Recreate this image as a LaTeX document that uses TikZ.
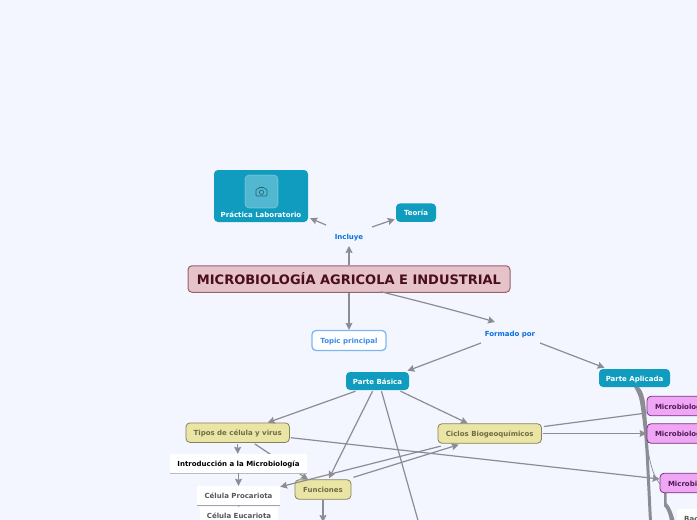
\documentclass[tikz,border=0pt]{standalone}
\usepackage{fontspec}
\setmainfont{DejaVu Sans}
\usetikzlibrary{arrows.meta,calc}
\definecolor{bgc}{HTML}{F4F6FF}
\definecolor{teal}{HTML}{109CBF}
\definecolor{linkc}{HTML}{8C8C94}
\definecolor{bluet}{HTML}{0A6FE0}
\definecolor{mainf}{HTML}{E5C3C9}
\definecolor{maind}{HTML}{96626C}
\definecolor{maint}{HTML}{4A0D1E}
\definecolor{yelf}{HTML}{EAE5A5}
\definecolor{yeld}{HTML}{85825A}
\definecolor{yelt}{HTML}{6E6B45}
\definecolor{pinf}{HTML}{EFA6F5}
\definecolor{pind}{HTML}{7A2F80}
\definecolor{pint}{HTML}{4F1A56}
\definecolor{topd}{HTML}{7DB6F5}
\definecolor{topt}{HTML}{3D8BEA}
\definecolor{grayt}{HTML}{55555F}
\tikzset{
 base/.style={font=\fontsize{7}{8}\selectfont\bfseries,inner sep=0pt,align=center,anchor=center,rounded corners=4pt,text height=6.4pt,text depth=0pt},
 tealbox/.style={base,fill=teal,text=white},
 yelbox/.style={base,fill=yelf,draw=yeld,line width=.8pt,text=yelt},
 pinkbox/.style={base,fill=pinf,draw=pind,line width=.8pt,text=pint},
 bluelab/.style={base,text=bluet},
 whitebox/.style={base,fill=white,rounded corners=0pt},
 conn/.style={draw=linkc,line width=1.2pt,-{Stealth[length=7pt,width=7pt,inset=1pt]}},
 plain/.style={draw=linkc,line width=1.2pt},
}
\begin{document}
\begin{tikzpicture}[x=1pt,y=-1pt]
\useasboundingbox (0,0) rectangle (697,520);
\clip (0,0) rectangle (697,520);
\fill[bgc] (0,0) rectangle (697,520);

% off-page ends
\coordinate (endA) at (419,524);
\coordinate (endB) at (323,522);
\coordinate (inclTop) at (349,246);

% nodes
\node[base,minimum width=94pt,minimum height=52pt,fill=teal] (prac) at (261,196) {};
\node[tealbox,minimum width=40pt,minimum height=18.5pt] (teoria) at (416,212.7) {Teoría};
\node[bluelab] (incl) at (349,236) {Incluye};
\node[base,minimum width=322pt,minimum height=26.5pt,fill=mainf,draw=maind,line width=1pt,text=maint,font=\fontsize{13}{15}\selectfont\bfseries,text height=10pt] (main) at (349,279) {MICROBIOLOGÍA AGRICOLA E INDUSTRIAL};
\node[base,minimum width=74pt,minimum height=20pt,fill=white,draw=topd,line width=1.3pt,text=topt] (topic) at (349,340.5) {Topic principal};
\node[bluelab] (form) at (510,333) {Formado por};
\node[tealbox,minimum width=63pt,minimum height=18pt] (basica) at (377.5,381) {Parte Básica};
\node[tealbox,minimum width=71pt,minimum height=18pt] (aplic) at (634.5,378) {Parte Aplicada};

% thick flows behind pink boxes
\fill[linkc] (634,387) .. controls (637,392) and (639,396) .. (640,402) .. controls (643,420) and (645,440) .. (646,460) -- (649,522) -- (652,522) -- (649,460) .. controls (648,440) and (647,420) .. (645,402) .. controls (644,396) and (642,390) .. (639,387) -- cycle;
\draw[plain,line width=.7pt] (644,415) .. controls (647,440) and (648,470) .. (660,484);
\fill[linkc] (664,493) -- (666.5,493) -- (666.5,503) .. controls (670,506) and (673,514) .. (675,522) -- (670,522) .. controls (669,514) and (667,509) .. (664,506) -- cycle;

\node[yelbox,minimum width=103.5pt,minimum height=19.5pt] (tipos) at (237.7,432.7) {Tipos de célula y virus};
\node[yelbox,minimum width=103.5pt,minimum height=19.5pt] (ciclos) at (489.7,433.5) {Ciclos Biogeoquímicos};
\node[yelbox,minimum width=56pt,minimum height=19.5pt] (func) at (323,489.5) {Funciones};

\node[pinkbox,minimum width=78pt,minimum height=19.5pt,text width=62pt,align=left] (mic1) at (686,406) {Microbiología};
\node[pinkbox,minimum width=78pt,minimum height=19.5pt,text width=62pt,align=left] (mic2) at (686,433.5) {Microbiología};
\node[pinkbox,minimum width=78pt,minimum height=19.5pt,text width=62pt,align=left] (mic3) at (699,483) {Microbiología};

% connectors
\draw[conn] (main.north) -- (inclTop);
\draw[conn] (main.south) -- (topic.north);
\draw[conn] ([shift={(-23,-11)}]incl.center) -- ([shift={(2,-4)}]prac.south east);
\draw[conn] ([shift={(23,-9)}]incl.center) -- ([shift={(-1,-3)}]teoria.south west);
\draw[conn] ([xshift=32pt,yshift=1pt]main.south) .. controls +(60,15) and +(-20,-6) .. ([shift={(-15,-11)}]form.center);
\draw[conn] ([shift={(-29,10)}]form.center) -- ([shift={(30,-1)}]basica.north);
\draw[conn] ([shift={(30,10)}]form.center) -- ([shift={(-30,-1)}]aplic.north);
\draw[conn] ([shift={(-22,1)}]basica.south) -- ([shift={(30,0)}]tipos.north);
\draw[conn] ([shift={(-5,1)}]basica.south) -- ([shift={(6,-1)}]func.north);
\draw[conn] ([shift={(23,1)}]basica.south) -- ([shift={(-22,0)}]ciclos.north);
\draw[plain] ([shift={(4,1)}]basica.south) -- (endA);
\draw[conn] ([shift={(1,5)}]tipos.east) -- ([shift={(0,-4)}]mic3.west);
\draw[conn] ([shift={(17,1)}]tipos.south) -- ([shift={(-15,0)}]func.north);
\draw[conn] ([shift={(0,1)}]tipos.south) -- ([shift={(0,11)}]tipos.south);
\draw[conn] (func.south) -- (endB);
\draw[conn] ([shift={(2,-2)}]func.north east) -- ([shift={(-31,1)}]ciclos.south);
\draw[plain] ([shift={(2,-7)}]ciclos.east) -- ([shift={(0,7)}]mic1.west);
\draw[conn] ([shift={(1,0)}]ciclos.east) -- (mic2.west);

\node[whitebox,minimum width=137pt,minimum height=19pt,text=black] (intro) at (238.5,463.5) {Introducción a la Microbiología};
\draw[linkc!60,line width=.7pt] (intro.south west) -- (intro.south east);
\node[whitebox,minimum width=83pt,minimum height=19pt,text=grayt] (proc) at (238.5,495.5) {Célula Procariota};
\node[whitebox,minimum width=78pt,minimum height=16pt,text=grayt] (euc) at (239,515) {Célula Eucariota};
\draw[linkc!80,line width=.7pt] (proc.south west) -- (proc.south east);
\draw[conn] (intro.south) -- (proc.north);
\draw[conn] ([shift={(-49,2.5)}]ciclos.south) -- ([yshift=-1pt]proc.north east);
\draw[plain,line width=.7pt] (proc.south) -- (euc.north);

\node[whitebox,minimum width=34pt,minimum height=20pt,text=grayt,anchor=north west,text width=20pt,align=left,text height=4pt] (bac) at (677,509) {Bacterias};

% picture node
\node[base,minimum width=33pt,minimum height=33pt,fill=white,fill opacity=.28,draw=white,draw opacity=.3,line width=.6pt] (icon) at (261.5,191.5) {};
\draw[yelt!30!teal!70!black,line width=.6pt,rounded corners=.8pt] (256,189) -- (258,189) -- (259,187.5) -- (264,187.5) -- (265,189) -- (267,189) -- (267,196) -- (256,196) -- cycle;
\draw[yelt!30!teal!70!black,line width=.6pt] (261.5,192.3) circle (2.2);
\node[base,text=white] (pracl) at (261,214.5) {Práctica Laboratorio};
\end{tikzpicture}
\end{document}
